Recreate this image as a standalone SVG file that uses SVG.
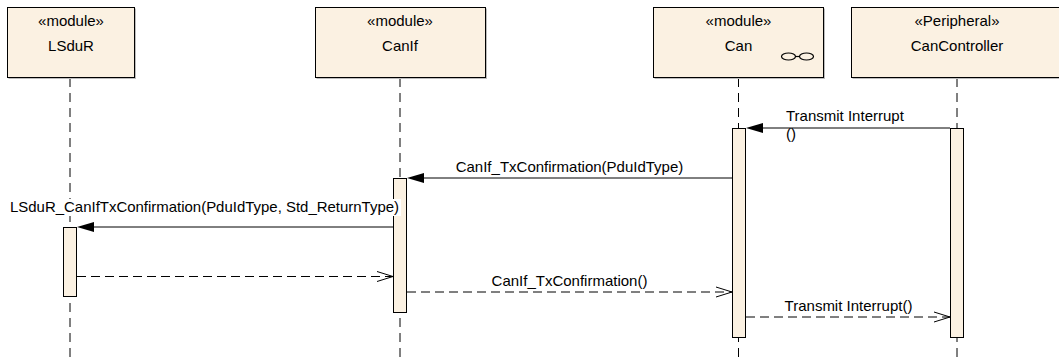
<svg xmlns="http://www.w3.org/2000/svg" width="1059" height="359" viewBox="0 0 1059 359">
<style>
.box{fill:#FBF1E2;stroke:#000;stroke-width:1}
.shadow{fill:#BDBDBD}
.life{stroke:#000;stroke-width:1;stroke-dasharray:9,6;fill:none}
.act{fill:#FBF1E2;stroke:#000;stroke-width:1}
.hdr{font-family:"Liberation Sans",Arial,sans-serif;font-size:15px;fill:#000;text-anchor:middle}
.lbl{font-family:"Liberation Sans",Arial,sans-serif;font-size:15px;fill:#000}
.mid{text-anchor:middle}
.msg{stroke:#000;stroke-width:1;fill:none}
.ret{stroke:#000;stroke-width:1;stroke-dasharray:9,5;fill:none}
.head{fill:#000}
.open{stroke:#000;stroke-width:1;fill:none}
</style>
<rect width="1059" height="359" fill="#fff"/>
<g id="lifelines">
<line class="life" x1="70" y1="78" x2="70" y2="359"/>
<line class="life" x1="400" y1="78" x2="400" y2="359"/>
<line class="life" x1="738.5" y1="78" x2="738.5" y2="359"/>
<line class="life" x1="957" y1="78" x2="957" y2="359"/>
</g>
<g id="LSduR">
<rect class="shadow" x="8.5" y="8.5" width="127.5" height="70.5"/>
<rect class="box" x="7.5" y="7.5" width="127" height="70"/>
<text class="hdr" x="71" y="26">«module»</text>
<text class="hdr" x="71" y="51">LSduR</text>
</g>
<g id="CanIf">
<rect class="shadow" x="316.5" y="8.5" width="170.5" height="70.5"/>
<rect class="box" x="315.5" y="7.5" width="170" height="70"/>
<text class="hdr" x="400" y="26">«module»</text>
<text class="hdr" x="400" y="51">CanIf</text>
</g>
<g id="Can">
<rect class="shadow" x="654.5" y="8.5" width="170.5" height="70.5"/>
<rect class="box" x="653.5" y="7.5" width="170" height="70"/>
<text class="hdr" x="738.5" y="26">«module»</text>
<text class="hdr" x="738.5" y="51">Can</text>
<ellipse cx="788.5" cy="56.5" rx="7" ry="3.5" fill="none" stroke="#000" stroke-width="1.2"/>
<ellipse cx="806.5" cy="56.5" rx="7" ry="3.5" fill="none" stroke="#000" stroke-width="1.2"/>
<line x1="795.5" y1="56.5" x2="799.5" y2="56.5" stroke="#000" stroke-width="1.2"/>
</g>
<g id="CanController">
<rect class="shadow" x="852.5" y="8.5" width="212" height="70.5"/>
<rect class="box" x="851.5" y="7.5" width="212" height="70"/>
<text class="hdr" x="957" y="26">«Peripheral»</text>
<text class="hdr" x="957" y="51">CanController</text>
</g>
<g id="activations">
<rect class="act" x="63.5" y="227.5" width="13" height="69"/>
<rect class="act" x="393.5" y="178.5" width="13" height="134"/>
<rect class="act" x="732.5" y="128.5" width="13" height="209"/>
<rect class="act" x="950.5" y="128.5" width="13" height="209"/>
</g>
<g id="connectors">
<line class="msg" x1="950" y1="128" x2="760" y2="128"/>
<polygon class="head" points="746,128 763,123 763,133"/>
<line class="msg" x1="732" y1="178" x2="422" y2="178"/>
<polygon class="head" points="407,178 424,173 424,183"/>
<line class="msg" x1="393" y1="227" x2="92" y2="227"/>
<polygon class="head" points="77,227 94,222 94,232"/>
<line class="ret" x1="77" y1="276.5" x2="393" y2="276.5"/>
<polyline class="open" points="377,271.5 393,276.5 377,281.5"/>
<line class="ret" x1="407" y1="292" x2="732" y2="292"/>
<polyline class="open" points="716,287 732,292 716,297"/>
<line class="ret" x1="746" y1="317" x2="950" y2="317"/>
<polyline class="open" points="934,312 950,317 934,322"/>
</g>
<g id="labels">
<text class="lbl" x="786" y="120.5">Transmit Interrupt</text>
<rect x="783" y="129" width="11" height="13" fill="#fff"/>
<text class="lbl" x="786" y="138.5">()</text>
<text class="lbl mid" x="569.5" y="172">CanIf_TxConfirmation(PduIdType)</text>
<rect x="8" y="199" width="393" height="17" fill="#fff"/>
<text class="lbl" x="10" y="211.5" textLength="389" lengthAdjust="spacingAndGlyphs">LSduR_CanIfTxConfirmation(PduIdType, Std_ReturnType)</text>
<text class="lbl mid" x="569.5" y="285.5">CanIf_TxConfirmation()</text>
<text class="lbl mid" x="848.5" y="310.5">Transmit Interrupt()</text>
</g>
</svg>
